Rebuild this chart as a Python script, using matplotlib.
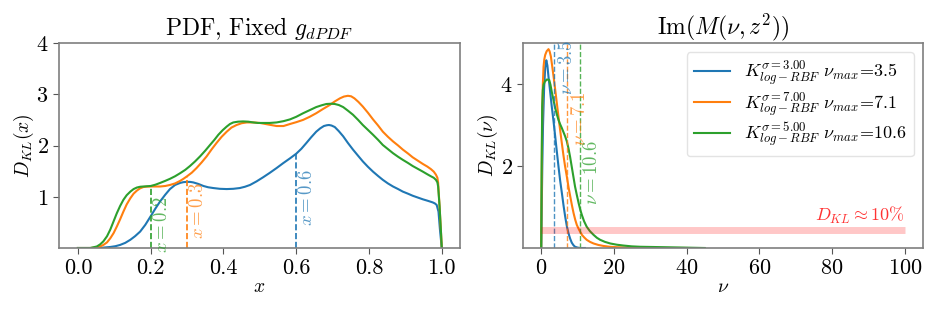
import numpy as np
import matplotlib
matplotlib.use("Agg")
import matplotlib.pyplot as plt

plt.rcParams['font.family'] = 'serif'
plt.rcParams['font.serif'] = ['cmr10']
plt.rcParams['mathtext.fontset'] = 'cm'
plt.rcParams['axes.unicode_minus'] = False
plt.rcParams['axes.formatter.use_mathtext'] = True

C_BLUE, C_ORANGE, C_GREEN = '#1f77b4', '#ff7f0e', '#2ca02c'

# ---------------- Left panel data: D_KL(x) ----------------
x_blue = [0.0, 0.043, 0.066, 0.089, 0.103, 0.116, 0.13, 0.144, 0.157, 0.171, 0.185, 0.2,
          0.213, 0.226, 0.24, 0.253, 0.267, 0.281, 0.29, 0.299, 0.308, 0.317, 0.331,
          0.345, 0.358, 0.372, 0.39, 0.409, 0.427, 0.445, 0.459, 0.473, 0.491, 0.509,
          0.527, 0.546, 0.564, 0.583, 0.6, 0.614, 0.628, 0.641, 0.655, 0.666, 0.676,
          0.684, 0.69, 0.697, 0.706, 0.717, 0.729, 0.742, 0.756, 0.77, 0.783, 0.797,
          0.811, 0.825, 0.838, 0.852, 0.866, 0.88, 0.893, 0.907, 0.92, 0.934, 0.948,
          0.962, 0.975, 0.981, 0.986, 0.991, 0.995, 1.0]
y_blue = [0.0, 0.0, 0.005, 0.02, 0.035, 0.06, 0.1, 0.16, 0.23, 0.32, 0.45, 0.62,
          0.77, 0.91, 1.04, 1.15, 1.23, 1.27, 1.285, 1.29, 1.29, 1.28, 1.25,
          1.21, 1.185, 1.17, 1.155, 1.15, 1.155, 1.17, 1.195, 1.23, 1.3, 1.38,
          1.465, 1.56, 1.655, 1.75, 1.84, 1.935, 2.05, 2.16, 2.27, 2.335, 2.38,
          2.395, 2.40, 2.39, 2.36, 2.28, 2.18, 2.05, 1.92, 1.8, 1.69, 1.585,
          1.49, 1.405, 1.33, 1.26, 1.20, 1.15, 1.10, 1.06, 1.02, 0.985, 0.95,
          0.92, 0.89, 0.87, 0.84, 0.71, 0.36, 0.0]

x_orange = [0.0, 0.034, 0.052, 0.061, 0.07, 0.08, 0.089, 0.098, 0.107, 0.116, 0.125, 0.134,
            0.144, 0.153, 0.162, 0.171, 0.18, 0.19, 0.2, 0.213, 0.226, 0.24, 0.253, 0.267,
            0.281, 0.29, 0.3, 0.313, 0.326, 0.34, 0.354, 0.367, 0.381, 0.395, 0.409, 0.422,
            0.436, 0.45, 0.464, 0.482, 0.5, 0.523, 0.546, 0.565, 0.583, 0.6, 0.619, 0.637,
            0.655, 0.673, 0.692, 0.706, 0.72, 0.731, 0.742, 0.751, 0.76, 0.771, 0.783,
            0.797, 0.811, 0.825, 0.838, 0.852, 0.866, 0.88, 0.893, 0.907, 0.92, 0.934,
            0.948, 0.96, 0.97, 0.978, 0.984, 0.988, 0.99, 0.994, 0.999, 1.0]
y_orange = [0.0, 0.0, 0.01, 0.03, 0.06, 0.11, 0.19, 0.29, 0.42, 0.56, 0.71, 0.85,
            0.97, 1.06, 1.12, 1.165, 1.19, 1.198, 1.20, 1.20, 1.20, 1.21, 1.23, 1.26,
            1.31, 1.35, 1.40, 1.47, 1.56, 1.67, 1.79, 1.92, 2.05, 2.17, 2.27, 2.35,
            2.40, 2.435, 2.45, 2.45, 2.44, 2.41, 2.38, 2.38, 2.42, 2.455, 2.50, 2.56,
            2.63, 2.71, 2.79, 2.86, 2.92, 2.955, 2.97, 2.96, 2.92, 2.85, 2.76,
            2.64, 2.51, 2.39, 2.27, 2.17, 2.08, 2.0, 1.92, 1.845, 1.77, 1.705,
            1.64, 1.59, 1.54, 1.49, 1.43, 1.37, 1.27, 0.81, 0.16, 0.0]

x_green = [0.0, 0.034, 0.052, 0.061, 0.07, 0.08, 0.089, 0.098, 0.107, 0.116, 0.125, 0.134,
           0.144, 0.153, 0.162, 0.171, 0.18, 0.19, 0.2, 0.213, 0.226, 0.24, 0.253, 0.267,
           0.281, 0.295, 0.308, 0.322, 0.336, 0.35, 0.363, 0.375, 0.386, 0.398, 0.409,
           0.418, 0.427, 0.44, 0.454, 0.468, 0.482, 0.495, 0.509, 0.527, 0.546, 0.565,
           0.583, 0.6, 0.619, 0.637, 0.655, 0.67, 0.683, 0.695, 0.706, 0.717, 0.729,
           0.742, 0.756, 0.77, 0.783, 0.797, 0.811, 0.825, 0.838, 0.852, 0.866, 0.88,
           0.893, 0.907, 0.92, 0.934, 0.948, 0.96, 0.97, 0.978, 0.984, 0.988, 0.99,
           0.994, 0.998, 1.0]
y_green = [0.0, 0.0, 0.03, 0.07, 0.13, 0.23, 0.36, 0.52, 0.68, 0.82, 0.94, 1.03,
           1.10, 1.15, 1.18, 1.195, 1.20, 1.205, 1.21, 1.235, 1.27, 1.31, 1.35, 1.40,
           1.46, 1.525, 1.60, 1.69, 1.79, 1.90, 2.01, 2.11, 2.21, 2.30, 2.37,
           2.42, 2.45, 2.465, 2.47, 2.465, 2.45, 2.44, 2.44, 2.44, 2.45, 2.475,
           2.51, 2.56, 2.63, 2.69, 2.75, 2.785, 2.81, 2.815, 2.81, 2.79, 2.75,
           2.68, 2.60, 2.50, 2.40, 2.305, 2.21, 2.11, 2.01, 1.93, 1.85, 1.78,
           1.72, 1.66, 1.60, 1.545, 1.49, 1.44, 1.40, 1.37, 1.33, 1.28, 1.20,
           0.81, 0.29, 0.0]

x_marks = [0.6, 0.3, 0.2]          # blue, orange, green
x_mark_labels = ['$x=0.6$', '$x=0.3$', '$x=0.2$']
x_label_y = [0.99, 0.73, 0.46]

# ---------------- Right panel data: D_KL(nu) ----------------
nu_blue = [0.0, 0.15, 0.3, 0.5, 0.8, 1.1, 1.4, 1.7, 2.0, 2.45, 2.9, 3.4, 3.85, 4.3, 4.76, 5.2,
           5.7, 6.15, 6.6, 7.05, 7.5, 7.95, 8.4, 8.85, 9.3, 10.0, 10.7, 12.0]
d_blue = [0.0, 1.0, 2.0, 3.0, 3.9, 4.4, 4.58, 4.45, 4.18, 3.82, 3.45, 3.08, 2.72, 2.35, 1.98, 1.65,
          1.33, 1.03, 0.76, 0.53, 0.36, 0.23, 0.13, 0.07, 0.03, 0.01, 0.0, 0.0]

nu_orange = [0.0, 0.1, 0.2, 0.3, 0.45, 0.64, 0.85, 1.1, 1.5, 2.0, 2.3, 2.66, 3.0, 3.4, 3.85, 4.3,
             4.75, 5.2, 5.65, 6.1, 6.55, 7.05, 7.5, 8.0, 8.45, 8.9, 9.35, 9.8, 10.5, 11.2, 11.8,
             12.5, 13.4, 14.4, 15.7, 17.1, 18.8, 20.8, 23.5, 26.3, 40.0]
d_orange = [0.0, 1.3, 2.5, 3.4, 4.0, 4.42, 4.6, 4.71, 4.8, 4.85, 4.8, 4.67, 4.45, 4.18, 3.86, 3.53,
            3.2, 2.88, 2.57, 2.27, 2.0, 1.74, 1.49, 1.25, 1.04, 0.85, 0.69, 0.56, 0.43, 0.32, 0.26,
            0.20, 0.15, 0.11, 0.075, 0.05, 0.03, 0.02, 0.01, 0.0, 0.0]

nu_green = [0.0, 0.1, 0.27, 0.45, 0.64, 1.0, 1.56, 2.2, 2.55, 2.9, 3.4, 3.85, 4.3, 4.76, 5.2,
            5.7, 6.15, 6.6, 7.05, 7.5, 7.95, 8.4, 8.85, 9.3, 9.8, 10.3, 10.75, 11.2, 11.8, 12.5,
            13.4, 14.4, 15.3, 16.2, 17.5, 19.0, 20.8, 22.6, 24.9, 27.2, 33.6, 45.0]
d_green = [0.0, 1.8, 3.45, 3.85, 3.98, 4.06, 4.11, 4.10, 3.98, 3.81, 3.6, 3.41, 3.26, 3.12, 3.02,
           2.92, 2.82, 2.72, 2.6, 2.43, 2.22, 1.98, 1.74, 1.50, 1.29, 1.09, 0.93, 0.80, 0.65, 0.52,
           0.41, 0.32, 0.25, 0.20, 0.15, 0.11, 0.08, 0.06, 0.04, 0.03, 0.02, 0.0]

nu_max = [3.5, 7.1, 10.6]
sigmas = ['3.00', '7.00', '5.00']
nu_label_y = [4.4, 3.16, 1.84]
kl_level = 0.45
kl_text = r'$D_{KL}\approx 10\%$'

fig = plt.figure(figsize=(9.47, 3.16), dpi=100)
ax1 = fig.add_axes([0.0623, 0.2152, 0.4234, 0.6487])
ax2 = fig.add_axes([0.5523, 0.2152, 0.4224, 0.6487])

spine_color = '#7f7f7f'
for ax in (ax1, ax2):
    for s in ax.spines.values():
        s.set_color(spine_color)
        s.set_linewidth(1.2)
    ax.tick_params(labelsize=16, length=4, color='#555555')

# Left panel
lw = 1.5
ax1.plot(x_blue, y_blue, color=C_BLUE, lw=lw)
ax1.plot(x_orange, y_orange, color=C_ORANGE, lw=lw)
ax1.plot(x_green, y_green, color=C_GREEN, lw=lw)
series = [(x_blue, y_blue, C_BLUE), (x_orange, y_orange, C_ORANGE), (x_green, y_green, C_GREEN)]
for (xs, ys, c), xm, lab, ly in zip(series, x_marks, x_mark_labels, x_label_y):
    top = np.interp(xm, xs, ys)
    ax1.vlines(xm, 0, top, colors=c, linestyles='--', lw=1.2)
    ax1.text(xm + 0.005, ly, lab, rotation=90, color=c, alpha=0.75, fontsize=13.5,
             ha='left', va='center')
ax1.set_xlim(-0.052, 1.05)
ax1.set_ylim(0, 4)
ax1.set_xticks([0.0, 0.2, 0.4, 0.6, 0.8, 1.0])
ax1.set_xticklabels(['0.0', '0.2', '0.4', '0.6', '0.8', '1.0'])
ax1.set_yticks([1, 2, 3, 4])
ax1.set_xlabel('$x$', fontsize=14, labelpad=0)
ax1.set_ylabel('$D_{KL}(x)$', fontsize=14, labelpad=0)
ax1.set_title('PDF, Fixed $g_{dPDF}$', fontsize=17)

# Right panel
rseries = [(nu_blue, d_blue, C_BLUE), (nu_orange, d_orange, C_ORANGE), (nu_green, d_green, C_GREEN)]
for (xs, ys, c), nm, sg in zip(rseries, nu_max, sigmas):
    ax2.plot(xs, ys, color=c, lw=lw,
             label=r'$K^{\sigma=%s}_{log-RBF}$ $\nu_{max}$=%s' % (sg, nm))
for (xs, ys, c), nm, ly in zip(rseries, nu_max, nu_label_y):
    ax2.axvline(nm, color=c, ls='--', lw=1.0, alpha=0.8)
    ax2.text(nm + 1.0, ly, r'$\nu=%s$' % nm, rotation=90, color=c, alpha=0.75,
             fontsize=13.5, ha='left', va='center')
ax2.hlines(kl_level, 0, 100, colors='red', lw=5, alpha=0.22)
ax2.text(100, kl_level + 0.08, kl_text, color='red', alpha=0.8, fontsize=13,
         ha='right', va='bottom')
ax2.set_xlim(-5, 105)
ax2.set_ylim(0, 5)
ax2.set_xticks([0, 20, 40, 60, 80, 100])
ax2.set_yticks([2, 4])
ax2.set_xlabel(r'$\nu$', fontsize=14, labelpad=0)
ax2.set_ylabel(r'$D_{KL}(\nu)$', fontsize=14, labelpad=0)
ax2.set_title(r'$\mathrm{Im}(M(\nu,z^2))$', fontsize=17)
leg = ax2.legend(loc='upper right', fontsize=13, frameon=True, fancybox=True,
                 borderpad=0.4, labelspacing=0.15, handlelength=2.0)
leg.get_frame().set_edgecolor('#dddddd')

fig.savefig('out.png', dpi=100)
